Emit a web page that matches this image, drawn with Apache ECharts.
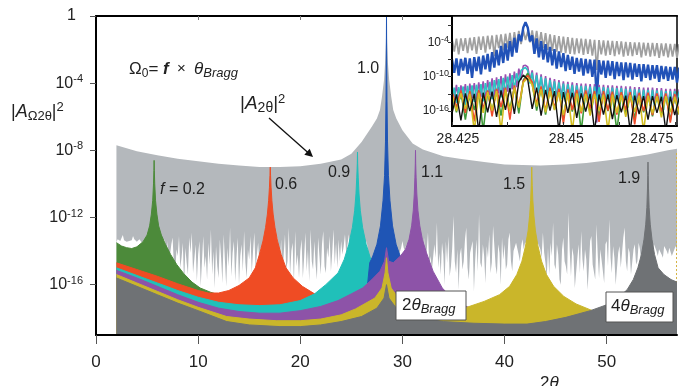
<!DOCTYPE html>
<html><head><meta charset="utf-8">
<script src="https://cdn.jsdelivr.net/npm/echarts@6/dist/echarts.min.js"></script>
<style>html,body{margin:0;padding:0;background:#fff}#c{width:680px;height:386px}</style>
</head><body><div id="c"></div>
<script>
// ---------------- DATA (log10 of intensity) ----------------
const braggX = 28.44;        // 2θ Bragg
const xMax = 56.88;          // 4θ Bragg
const mainXTicks = [0, 10, 20, 30, 40, 50];
const mainYTicks = [0, -4, -8, -12, -16];
const insetXTicks = [28.425, 28.4375, 28.45, 28.4625, 28.475];
const insetXLabels = [28.425, 28.45, 28.475];
const insetYTicks = [-1, -4, -7, -10, -13, -16];
const insetYLabels = [-4, -10, -16];
const peakLabels = ['f = 0.2', '0.6', '0.9', '1.0', '1.1', '1.5', '1.9'];

// |A_2θ|^2 upper envelope (light gray)
const envelope = [[2,-7.7],[4,-8.05],[6,-8.3],[8,-8.5],[10,-8.65],[12,-8.8],[14,-8.9],[16,-9.0],[18,-9.0],[20,-8.95],[22,-8.8],[24,-8.55],[25,-8.2],[26,-7.5],[27,-6.6],[27.5,-6.1],[27.8,-5.6],[28.0,-4.8],[28.2,-3.8],[28.3,-2.8],[28.38,-1.6],[28.42,-0.5],[28.44,0],[28.46,-0.5],[28.5,-1.6],[28.58,-2.8],[28.7,-3.8],[28.9,-4.8],[29.1,-5.6],[29.4,-6.1],[30,-6.8],[31,-7.6],[32,-7.95],[34,-8.35],[35.6,-8.5],[38,-8.7],[40,-8.85],[43.5,-8.9],[46,-8.85],[48,-8.75],[50,-8.6],[52,-8.45],[54,-8.25],[56,-8.0],[56.88,-7.9]];

// lower jagged edge of the light gray |A_2θ|^2 band, read every 0.125 from 2θ = 2 (one row per degree)
const floorStart = 2, floorStep = 0.125;
const floorValues = [
-13.45,-13.3,-13.35,-13.4,-13.3,-13.05,-13.35,-13.4,
-13.45,-13.5,-13.4,-13.3,-13.35,-13.1,-13.3,-13.4,
-13.45,-13.35,-13.3,-13.4,-13.5,-13.4,-13.35,-13.4,
-13.5,-13.5,-13.5,-13.5,-13.5,-13.5,-13.5,-13.5,
-13.5,-13.5,-13.6,-13.6,-14.2,-13.5,-13.3,-14.6,
-13.4,-15.1,-14.2,-13.6,-13.2,-14.8,-15.6,-13.9,
-14.3,-13.1,-15.0,-14.4,-13.5,-16.0,-13.8,-14.7,
-15.4,-13.2,-14.1,-12.9,-15.3,-14.5,-13.6,-15.8,
-14.2,-13.4,-16.1,-14.6,-13.1,-15.0,-14.3,-15.7,
-13.5,-14.8,-12.7,-15.4,-14.0,-16.2,-13.7,-14.9,
-15.6,-13.3,-14.4,-15.9,-13.0,-14.6,-16.1,-13.8,
-14.9,-12.6,-15.5,-14.1,-13.4,-15.8,-14.4,-13.2,
-16.0,-14.3,-13.6,-15.2,-12.8,-14.7,-15.6,-13.9,
-14.5,-13.1,-15.3,-14.0,-12.9,-15.1,-14.2,-13.5,
-14.8,-13.8,-14.1,-13.5,-14.0,-13.6,-13.8,-13.5,
-14.0,-13.7,-13.6,-13.9,-14.3,-13.4,-13.2,-14.0,
-14.8,-13.3,-15.7,-14.2,-13.0,-15.1,-14.6,-12.6,
-15.4,-14.0,-13.5,-15.9,-12.8,-14.9,-14.2,-15.6,
-14.0,-13.3,-15.6,-14.4,-12.9,-15.2,-13.9,-15.8,
-12.7,-14.6,-15.1,-13.4,-14.8,-15.7,-13.2,-14.3,
-15.4,-13.6,-12.8,-14.9,-15.3,-13.8,-14.4,-13.1,
-15.2,-14.1,-12.7,-14.8,-13.5,-15.0,-13.3,-14.6,
-13.4,-14.2,-13.7,-13.0,-14.2,-13.6,-13.0,-13.8,
-13.8,-13.5,-13.5,-13.6,-13.5,-13.4,-13.5,-13.5,
-13.2,-13.6,-14.0,-13.7,-13.4,-14.0,-14.4,-14.5,
-14.5,-14.5,-14.5,-14.5,-14.5,-14.5,-14.5,-14.5,
-14.5,-14.5,-14.5,-14.5,-14.5,-14.5,-14.5,-14.5,
-14.5,-14.5,-14.5,-14.5,-14.5,-14.3,-14.2,-13.8,
-13.4,-13.8,-14.0,-13.6,-14.0,-13.7,-13.5,-13.8,
-13.8,-13.6,-13.5,-13.7,-13.9,-13.5,-13.2,-13.9,
-14.5,-13.2,-15.6,-14.0,-12.9,-14.8,-14.3,-15.2,
-15.2,-13.6,-14.4,-12.3,-15.0,-14.1,-15.4,-13.5,
-14.2,-16.0,-13.4,-14.7,-13.1,-15.5,-14.9,-13.8,
-11.9,-14.6,-15.3,-13.9,-16.3,-14.2,-13.8,-15.1,
-14.6,-13.3,-12.6,-15.0,-15.7,-14.1,-14.0,-13.4,
-16.4,-14.5,-13.3,-15.2,-11.8,-14.7,-15.0,-13.6,
-14.3,-15.9,-13.7,-14.4,-13.0,-15.3,-14.7,-12.5,
-12.5,-14.9,-15.4,-13.6,-14.1,-16.0,-13.2,-14.5,
-13.6,-15.1,-14.8,-13.3,-12.9,-14.6,-15.2,-14.0,
-14.0,-13.5,-13.4,-14.2,-14.6,-13.7,-13.3,-13.9,
-13.5,-13.5,-13.5,-13.5,-13.5,-13.5,-13.5,-13.5,
-13.5,-13.5,-13.5,-13.6,-13.9,-14.4,-12.9,-14.1,
-14.7,-15.6,-13.8,-15.4,-13.5,-14.3,-12.3,-14.8,
-15.1,-13.6,-14.2,-15.7,-16.0,-13.9,-13.2,-14.6,
-14.9,-15.4,-11.7,-14.0,-15.5,-13.8,-14.3,-16.2,
-16.2,-14.4,-13.6,-15.3,-12.8,-14.5,-15.2,-13.9,
-14.5,-16.3,-15.0,-13.4,-13.1,-14.8,-14.8,-15.7,
-12.4,-14.3,-15.6,-13.9,-14.0,-15.2,-15.9,-13.6,
-13.4,-14.9,-12.1,-14.4,-15.3,-13.7,-14.4,-16.0,
-16.0,-14.1,-13.7,-15.0,-14.9,-13.2,-12.6,-14.6,
-15.2,-13.8,-14.1,-15.4,-15.5,-13.9,-13.6,-14.8,
-14.6,-13.5,-13.9,-14.7,-14.3,-13.8,-14.0,-14.4,
-14.2,-13.9,-13.7,-14.1,-14.1,-13.6,-13.5,-14.0,
-14.3,-13.9,-13.8,-14.2,-14.4,-13.7,-13.6,-14.0,
-14.2,-13.8,-13.9,-14.3,-14.4,-13.9,-13.7,-14.0];

// |A_Ω2θ|^2 for each f
const seriesF02 = [[2,-13.5],[2.5,-13.7],[3,-13.8],[3.5,-13.85],[4,-13.75],[4.6,-13.45],[5.0,-13.05],[5.25,-12.5],[5.42,-11.8],[5.55,-11.0],[5.63,-10.0],[5.67,-9.2],[5.69,-8.6],[5.71,-9.2],[5.75,-10.0],[5.83,-11.0],[5.96,-11.8],[6.13,-12.5],[6.4,-13.05],[6.8,-13.6],[7.3,-14.2],[7.9,-14.8],[8.6,-15.35],[9.4,-15.85],[10.2,-16.2],[11.2,-16.45],[12.5,-16.7],[14,-17.0]];
const seriesF06 = [[2,-14.7],[4,-15.1],[6,-15.5],[8,-15.95],[10,-16.35],[11,-16.5],[12,-16.5],[13,-16.35],[14,-16.05],[15,-15.6],[15.6,-15.0],[16.0,-14.2],[16.35,-13.4],[16.6,-12.6],[16.78,-11.8],[16.9,-11.0],[16.98,-10.2],[17.03,-9.5],[17.06,-9.0],[17.09,-9.5],[17.14,-10.2],[17.22,-11.0],[17.34,-11.8],[17.52,-12.6],[17.77,-13.4],[18.12,-14.2],[18.6,-15.0],[19.3,-15.6],[20.2,-16.1],[21.4,-16.55],[22.5,-16.8],[24,-17.0],[26,-17.2],[28,-17.4]];
const seriesF09 = [[2,-15.0],[4,-15.45],[6,-15.9],[8,-16.35],[10,-16.75],[12,-17.05],[14,-17.2],[16,-17.25],[18,-17.2],[20,-16.95],[21.4,-16.55],[22.5,-16.0],[23.7,-15.3],[24.3,-14.5],[24.75,-13.6],[25.1,-12.6],[25.32,-11.6],[25.45,-10.6],[25.53,-9.6],[25.58,-8.8],[25.6,-8.1],[25.62,-8.8],[25.67,-9.6],[25.75,-10.6],[25.88,-11.6],[26.1,-12.6],[26.45,-13.6],[26.9,-14.5],[27.4,-15.1],[28,-15.6],[29,-16.1],[30,-16.5],[32,-17.0]];
const seriesF10 = [[2,-19.5],[26.0,-19.5],[26.5,-16.5],[26.8,-14.7],[27.1,-14.3],[27.5,-13.6],[27.85,-12.5],[28.1,-11.0],[28.25,-9.5],[28.34,-7.5],[28.39,-5.0],[28.42,-2.5],[28.44,0],[28.46,-2.5],[28.49,-5.0],[28.54,-7.5],[28.63,-9.5],[28.78,-11.0],[29.03,-12.5],[29.38,-13.6],[29.78,-14.3],[30.08,-14.7],[30.38,-16.5],[30.8,-19.5],[56.88,-19.5]];
const seriesF11 = [[2,-15.15],[4,-15.6],[6,-16.1],[8,-16.6],[10,-17.05],[12,-17.4],[14,-17.6],[16,-17.7],[18,-17.7],[20,-17.55],[22,-17.3],[23.7,-16.95],[25,-16.55],[26.1,-16.2],[27,-15.7],[27.8,-15.2],[28.25,-14.6],[28.44,-13.8],[28.65,-14.6],[29.1,-14.7],[29.8,-14.3],[30.3,-13.9],[30.65,-13.3],[30.9,-12.5],[31.06,-11.6],[31.16,-10.6],[31.22,-9.6],[31.26,-8.8],[31.28,-8.0],[31.3,-8.8],[31.34,-9.6],[31.41,-10.6],[31.52,-11.6],[31.7,-12.5],[31.95,-13.3],[32.35,-14.1],[33.0,-15.2],[33.9,-16.2],[35,-16.9],[36.6,-17.4],[38,-17.7],[40,-17.9],[45,-17.95],[50,-17.7],[54,-17.3],[56.88,-17.0]];
const seriesF15 = [[2,-15.4],[4,-15.9],[6,-16.4],[8,-16.9],[10,-17.35],[12.8,-17.9],[15,-18.05],[17.7,-18.15],[20,-18.15],[22,-18.05],[24,-17.8],[25.4,-17.45],[27.3,-16.8],[28.0,-16.2],[28.3,-15.3],[28.44,-14.4],[28.58,-15.3],[28.9,-16.2],[29.6,-16.8],[31,-17.1],[33,-17.35],[35,-17.45],[36.3,-17.35],[38,-17.0],[39.5,-16.6],[40.5,-16.1],[41.2,-15.4],[41.7,-14.6],[42.05,-13.7],[42.3,-12.8],[42.45,-11.9],[42.55,-11.0],[42.61,-10.1],[42.66,-9.0],[42.71,-10.1],[42.77,-11.0],[42.87,-11.9],[43.02,-12.8],[43.27,-13.7],[43.62,-14.6],[44.1,-15.4],[44.8,-16.1],[45.8,-16.7],[47,-17.15],[48.6,-17.55],[50,-17.8],[53,-18.0],[56.88,-18.0]];
const seriesF19 = [[2,-15.6],[4,-16.1],[6,-16.6],[8,-17.1],[10,-17.55],[12.8,-18.2],[15,-18.4],[18,-18.5],[20,-18.5],[22,-18.4],[24,-18.2],[26,-17.9],[27.5,-17.4],[28.2,-16.8],[28.44,-16.0],[28.68,-16.8],[29.4,-17.4],[31,-17.9],[34,-18.2],[37,-18.3],[40,-18.35],[42.2,-18.35],[44,-18.2],[46,-17.95],[48.4,-17.55],[50,-17.2],[51.1,-16.8],[52.0,-16.3],[52.6,-15.7],[53.05,-15.0],[53.4,-14.2],[53.65,-13.3],[53.82,-12.4],[53.93,-11.4],[53.99,-10.3],[54.02,-9.5],[54.04,-8.7],[54.06,-9.5],[54.09,-10.3],[54.15,-11.4],[54.26,-12.4],[54.43,-13.3],[54.68,-14.2],[55.03,-15.0],[55.6,-15.4],[56.3,-15.7],[56.88,-15.85]];

// Inset (zoom around 2θ Bragg), sampled from 28.425
const insetStart = 28.425;
const insetFineStep = 0.0005;
const insetCoarseStep = 0.001;
const insetGray = [-3.4,-5.6,-3.35,-6.1,-3.3,-5.5,-3.25,-5.9,-3.2,-5.4,
-3.1,-6.0,-3.0,-5.3,-2.95,-5.8,-2.85,-5.2,-2.8,-6.4,
-2.7,-5.0,-2.6,-5.4,-2.5,-4.9,-2.35,-5.2,-2.2,-4.6,
-2.0,-4.3,-1.9,-3.6,-2.1,-4.0,-1.9,-4.4,-2.0,-4.7,
-2.2,-5.0,-2.4,-5.3,-2.6,-5.5,-2.75,-5.6,-2.9,-5.8,
-3.0,-5.9,-3.1,-6.0,-3.2,-6.1,-3.3,-5.9,-3.35,-6.2,
-3.4,-6.0,-3.5,-6.3,-3.55,-8.8,-3.6,-6.1,-3.65,-6.3,
-3.7,-6.2,-3.75,-6.4,-3.8,-6.1,-3.85,-6.5,-3.9,-6.3,
-3.95,-6.4,-4.0,-6.2,-4.0,-6.6,-4.05,-6.3,-4.1,-6.5,
-4.1,-6.4,-4.15,-6.7,-4.2,-6.4,-4.2,-6.6,-4.25,-6.5,
-4.25,-6.7,-4.3];
const insetBlue = [-7.0,-9.3,-6.8,-9.8,-6.9,-8.9,-6.7,-9.5,-6.8,-10.2,
-6.6,-9.0,-6.5,-9.6,-6.3,-8.7,-6.0,-9.1,-5.7,-8.4,
-5.3,-8.0,-4.6,-7.6,-4.2,-7.2,-3.8,-6.5,-3.2,-5.8,
-2.6,-3.8,-1.4,-0.5,-1.4,-3.8,-2.8,-6.0,-3.3,-6.6,
-3.8,-7.0,-4.3,-7.5,-4.8,-8.0,-5.2,-8.6,-5.6,-8.3,
-5.9,-9.0,-6.2,-8.8,-6.5,-9.5,-6.7,-9.1,-6.8,-9.8,
-6.9,-9.4,-7.0,-10.0,-7.0,-14.0,-7.1,-9.6,-7.2,-10.2,
-7.2,-9.8,-7.3,-10.4,-7.4,-9.9,-7.5,-10.6,-7.5,-10.1,
-7.6,-10.5,-7.7,-10.0,-7.8,-10.8,-7.8,-10.2,-7.9,-10.6,
-8.0,-10.3,-8.0,-10.9,-8.1,-10.4,-8.2,-10.7,-8.3,-10.5,
-8.3,-11.0,-8.4];
const insetPurple = [-11.6,-13.9,-11.4,-14.3,-11.5,-13.6,-11.3,-14.8,-11.2,-13.7,
-11.1,-14.1,-11.0,-13.5,-10.8,-14.0,-10.6,-13.2,-10.3,-13.6,
-10.1,-12.9,-9.9,-13.3,-9.6,-12.6,-9.4,-12.2,-9.1,-11.8,
-8.6,-10.5,-8.1,-8.0,-8.3,-10.6,-8.9,-12.0,-9.3,-12.5,
-9.6,-12.9,-9.9,-13.4,-10.2,-13.1,-10.4,-13.8,-10.6,-13.5,
-10.8,-14.0,-10.9,-13.6,-11.0,-14.2,-11.1,-13.7,-11.2,-14.4,
-11.2,-13.9,-11.3,-14.6,-11.3,-18.0,-11.4,-14.1,-11.4,-14.5,
-11.5,-14.0,-11.5,-14.7,-11.6,-14.2,-11.6,-14.8,-11.7,-14.3,
-11.7,-14.9,-11.8,-14.4,-11.8,-15.0,-11.9,-14.5,-11.9,-15.1,
-11.9,-14.6,-12.0,-15.2,-12.0,-14.7,-12.1,-15.0,-12.1,-14.8,
-12.1,-15.3,-12.2];
const insetCyan = [-14.2,-11.9,-14.6,-11.8,-13.9,-11.7,-15.0,-11.6,-14.1,-11.5,
-14.4,-11.4,-13.8,-11.3,-14.3,-11.1,-13.5,-10.9,-13.9,-10.6,
-13.2,-10.4,-13.6,-10.2,-12.9,-10.0,-12.5,-9.7,-12.1,-9.4,
-11.0,-8.9,-8.6,-8.4,-8.9,-11.2,-9.3,-12.4,-9.7,-12.9,
-10.0,-13.3,-10.3,-13.8,-10.6,-13.5,-10.8,-14.2,-11.0,-13.9,
-11.2,-14.4,-11.3,-14.0,-11.4,-14.6,-11.5,-14.1,-11.6,-14.8,
-11.6,-14.3,-11.7,-15.0,-11.7,-14.5,-11.8,-15.1,-11.8,-14.6,
-11.9,-15.2,-11.9,-14.7,-12.0,-15.3,-12.0,-14.8,-12.1,-15.4,
-12.1,-14.9,-12.2,-15.5,-12.2,-15.0,-12.3,-15.6,-12.3,-15.1,
-12.3,-15.7,-12.4,-15.2,-12.4,-15.8,-12.5,-15.3,-12.5,-15.9,
-12.5,-15.4,-12.6];
const insetGreen = [-12.9,-16.2,-12.7,-17.5,-12.8,-15.8,-12.5,-19.5,-12.6,-16.0,
-12.4,-16.8,-12.2,-15.6,-11.8,-16.4,-10.6,-9.4,-11.2,-15.9,
-12.0,-16.6,-12.2,-15.7,-12.4,-17.2,-12.5,-16.1,-12.6,-19.5,
-12.7,-16.3,-12.8,-17.0,-12.9,-16.0,-13.0,-19.5,-13.0,-16.5,
-13.1,-17.3,-13.1,-16.2,-13.2,-16.9,-13.2,-16.4,-13.3,-17.6,
-13.3,-16.6];
const insetRed = [-12.6,-15.4,-12.4,-16.3,-12.5,-17.8,-12.3,-15.6,-12.4,-16.9,
-12.1,-15.3,-11.9,-17.5,-11.5,-15.2,-10.8,-9.8,-10.9,-14.8,
-11.7,-16.0,-11.9,-15.5,-12.1,-18.2,-12.2,-15.8,-12.3,-16.4,
-12.4,-15.6,-12.5,-17.9,-12.5,-15.9,-12.6,-16.6,-12.7,-15.8,
-12.7,-18.3,-12.8,-16.0,-12.8,-16.7,-12.9,-16.1,-12.9,-18.0,
-13.0,-16.2];
const insetYellow = [-13.0,-16.0,-12.9,-15.6,-13.0,-19.5,-12.8,-16.3,-12.7,-15.9,
-12.5,-19.5,-12.3,-16.0,-11.9,-15.4,-11.0,-10.2,-11.4,-15.2,
-12.2,-16.2,-12.5,-15.8,-12.7,-16.7,-12.8,-19.5,-12.9,-16.1,
-13.0,-16.8,-13.0,-15.9,-13.1,-19.5,-13.1,-16.3,-13.2,-17.0,
-13.2,-16.1,-13.3,-19.5,-13.3,-16.4,-13.4,-17.1,-13.4,-16.2,
-13.5,-16.6];
const insetBlack = [-16.4,-13.1,-17.6,-12.9,-16.0,-13.0,-19.5,-12.8,-16.2,-12.6,
-17.0,-12.4,-15.8,-12.0,-16.5,-10.9,-9.7,-10.5,-15.6,-11.9,
-16.8,-12.3,-15.9,-12.5,-19.5,-12.7,-16.3,-12.8,-17.2,-12.9,
-16.1,-13.0,-19.5,-13.1,-16.6,-13.1,-17.4,-13.2,-16.2,-13.3,
-19.5,-13.3,-16.5,-13.4,-17.5,-13.4,-16.3,-13.5,-19.5,-13.5,
-16.7,-13.6];

// ---------------- STYLE ----------------
const FONT = '"Liberation Sans", Arial, Helvetica, sans-serif';
const C = {
  env:'#b4b8bc', green:'#4c8a3a', red:'#ef4c24', cyan:'#20c0b9', blue:'#1f55b5',
  purple:'#8d53a8', yellow:'#cab62a', dark:'#6f7275', dotted:'#d6b444'
};
const IC = {gray:'#a0a0a0', blue:'#2152b8', purple:'#9a50b2', cyan:'#2cc4c2', green:'#3f9a3a', red:'#ef4c2a', yellow:'#d2be22', black:'#111'};

const floorEdge = floorValues.map((v, i) => [floorStart + i * floorStep, v]);

function area(name, data, color, lw, z) {
  return {type:'line', name, data, xAxisIndex:0, yAxisIndex:0, symbol:'none', showSymbol:false, z,
    silent:true, animation:false, clip:true,
    lineStyle:{width: lw, color}, itemStyle:{color},
    areaStyle:{color, opacity:1, origin:'start'}};
}
function insetLine(name, vals, step, color, w, z) {
  return {type:'line', name, data: vals.map((v,i)=>[insetStart + i*step, v]), xAxisIndex:2, yAxisIndex:1,
    zlevel:1, z, symbol:'none', showSymbol:false, silent:true, animation:false, clip:true,
    lineStyle:{width:w, color}, itemStyle:{color}};
}
const supRich = (fs, sfs) => ({
  n:{fontSize:fs, lineHeight:fs+3, color:'#222', fontFamily:FONT},
  one:{fontSize:fs, lineHeight:fs+3, color:'#222', fontFamily:FONT, padding:[0,7,0,0]},
  s:{fontSize:sfs, lineHeight:sfs, verticalAlign:'top', color:'#222', fontFamily:FONT}
});
function txt(x, y, text, rich) {
  return {type:'text', x, y, z:100, silent:true,
    style:{text, rich, fill:'#222', align:'left', verticalAlign:'middle', fontFamily:FONT}};
}
const baseRich = (fs) => ({
  b:{fontSize:fs, fontFamily:FONT, color:'#222', lineHeight:fs+4},
  i:{fontSize:fs, fontFamily:FONT, color:'#222', fontStyle:'italic', lineHeight:fs+4},
  bi:{fontSize:fs, fontFamily:FONT, color:'#222', fontStyle:'italic', fontWeight:'bold', lineHeight:fs+4},
  x:{fontSize:fs-2, fontFamily:FONT, color:'#777', lineHeight:fs+4},
  sub:{fontSize:Math.round(fs*0.72), fontFamily:FONT, color:'#222', verticalAlign:'bottom', lineHeight:Math.round(fs*0.72)},
  subi:{fontSize:Math.round(fs*0.74), fontFamily:FONT, color:'#222', fontStyle:'italic', verticalAlign:'bottom', lineHeight:Math.round(fs*0.72)},
  sup:{fontSize:Math.round(fs*0.7), fontFamily:FONT, color:'#222', verticalAlign:'top', lineHeight:Math.round(fs*0.7)}
});

const chart = echarts.init(document.getElementById('c'), null, {renderer:'canvas'});
const option = {
  animation:false,
  backgroundColor:'#ffffff',
  grid:[
    {left:96, top:16, width:581, height:319},
    {left:452, top:16, width:225, height:110, show:true, backgroundColor:'#fff', borderColor:'#000', borderWidth:1.5, zlevel:1}
  ],
  xAxis:[
    {gridIndex:0, type:'value', min:0, max:xMax, z:50,
      axisLine:{show:true, onZero:false, lineStyle:{color:'#000', width:2}},
      axisTick:{show:true, customValues:mainXTicks, length:9, lineStyle:{color:'#555', width:1}},
      axisLabel:{customValues:mainXTicks, fontSize:17, color:'#222', margin:19, fontFamily:FONT},
      splitLine:{show:false}},
    {gridIndex:0, type:'value', position:'top', min:0, max:xMax, z:50,
      axisLine:{show:true, onZero:false, lineStyle:{color:'#000', width:2}},
      axisTick:{show:true, inside:true, length:4, customValues:mainXTicks.slice(1), lineStyle:{color:'#777'}},
      axisLabel:{show:false}, splitLine:{show:false}},
    {gridIndex:1, type:'value', min:insetStart, max:28.4755, zlevel:1, z:50,
      axisLine:{show:true, onZero:false, lineStyle:{color:'#000', width:2}},
      axisTick:{show:true, inside:true, length:4, customValues:insetXTicks, lineStyle:{color:'#333'}},
      axisLabel:{customValues:insetXLabels, fontSize:14, color:'#222', margin:6, fontFamily:FONT,
        formatter:(v)=>{ const s = String(Number(v.toFixed(4)));
          if (Math.abs(v-28.475)<1e-6) return '{r|'+s+'}';
          if (Math.abs(v-28.425)<1e-6) return '{l|'+s+'}';
          return '{m|'+s+'}'; },
        rich:{r:{fontSize:14, fontFamily:FONT, color:'#222', padding:[0,46,0,0]},
              l:{fontSize:14, fontFamily:FONT, color:'#222', padding:[0,0,0,12]},
              m:{fontSize:14, fontFamily:FONT, color:'#222', padding:[0,0,0,6]}}},
      splitLine:{show:false}}
  ],
  yAxis:[
    {gridIndex:0, type:'value', min:-19, max:0, z:50,
      axisLine:{show:true, onZero:false, lineStyle:{color:'#000', width:2}},
      axisTick:{show:true, customValues:mainYTicks, length:6, lineStyle:{color:'#555', width:1}},
      axisLabel:{customValues:mainYTicks, margin:13,
        formatter:(v)=> v===0 ? '{one|1}' : '{n|10}{s|'+v+'}', rich:supRich(16,11)},
      splitLine:{show:false}},
    {gridIndex:1, type:'value', min:-18.6, max:0.6, zlevel:1, z:50,
      axisLine:{show:true, onZero:false, lineStyle:{color:'#000', width:2}},
      axisTick:{show:true, customValues:insetYTicks, length:4, lineStyle:{color:'#333', width:1}},
      axisLabel:{customValues:insetYLabels, margin:3,
        formatter:(v)=> '{n|10}{s|'+v+'}', rich:supRich(12,9)},
      splitLine:{show:false}}
  ],
  series:[
    area('envelope', envelope, C.env, 0, 2),
    area('floor', floorEdge, '#ffffff', 0, 3),
    area('f0.2', seriesF02, C.green, 1, 4),
    area('f0.6', seriesF06, C.red, 1, 5),
    area('f0.9', seriesF09, C.cyan, 1, 6),
    area('f1.0', seriesF10, C.blue, 1, 7),
    area('f1.1', seriesF11, C.purple, 1, 8),
    area('f1.5', seriesF15, C.yellow, 1, 9),
    area('f1.9', seriesF19, C.dark, 1, 10),
    {type:'line', name:'bragg', xAxisIndex:0, yAxisIndex:0, z:20, data:[[braggX,-19]], symbol:'none', lineStyle:{width:0}, silent:true,
      markLine:{silent:true, symbol:['none','none'], animation:false, label:{show:false},
        lineStyle:{color:C.dotted, type:[2,2], width:1},
        data:[[{coord:[braggX,-19]},{coord:[braggX,-8]}],[{coord:[xMax-0.05,-19]},{coord:[xMax-0.05,-8.1]}]]}},
    insetLine('gray', insetGray, insetFineStep, IC.gray, 1.8, 2),
    insetLine('blue', insetBlue, insetFineStep, IC.blue, 2.4, 3),
    insetLine('purple', insetPurple, insetFineStep, IC.purple, 1.6, 4),
    insetLine('cyan', insetCyan, insetFineStep, IC.cyan, 1.6, 5),
    insetLine('green', insetGreen, insetCoarseStep, IC.green, 1.6, 6),
    insetLine('red', insetRed, insetCoarseStep, IC.red, 1.6, 7),
    insetLine('yellow', insetYellow, insetCoarseStep, IC.yellow, 1.6, 8),
    insetLine('black', insetBlack, insetCoarseStep, IC.black, 1.4, 9)
  ],
  graphic:[
    txt(11, 112, '{b||}{i|A}{sub|Ω2θ}{b||}{sup|2}', baseRich(18)),
    txt(129, 69, '{b|Ω}{sub|0}{b|= }{bi|f}{x|  ×  }{i|θ}{subi|Bragg}', baseRich(17)),
    txt(240, 104, '{b||}{i|A}{sub|2θ}{b||}{sup|2}', baseRich(19)),
    {type:'line', z:100, silent:true, shape:{x1:269, y1:118, x2:309, y2:153.5}, style:{stroke:'#111', lineWidth:1.3}},
    {type:'polygon', z:100, silent:true, shape:{points:[[313,157],[304.3,154.7],[309.7,148.7]]}, style:{fill:'#111'}},
    txt(160, 190, '{i|f}{b| = 0.2}', baseRich(16)),
    txt(275, 185, '{b|'+peakLabels[1]+'}', baseRich(16)),
    txt(328, 173, '{b|'+peakLabels[2]+'}', baseRich(16)),
    txt(357, 69, '{b|'+peakLabels[3]+'}', baseRich(16)),
    txt(421, 173, '{b|'+peakLabels[4]+'}', baseRich(16)),
    txt(503, 185, '{b|'+peakLabels[5]+'}', baseRich(16)),
    txt(618, 179, '{b|'+peakLabels[6]+'}', baseRich(16)),
    {type:'rect', z:100, silent:true, shape:{x:396, y:291, width:70, height:29}, style:{fill:'#fff', stroke:'#555', lineWidth:1}},
    txt(402, 305, '{b|2}{i|θ}{subi|Bragg}', baseRich(17)),
    {type:'rect', z:100, silent:true, shape:{x:606, y:292, width:67, height:30}, style:{fill:'#fff', stroke:'#555', lineWidth:1}},
    txt(611, 306, '{b|4}{i|θ}{subi|Bragg}', baseRich(17)),
    txt(540, 383, '{b|2}{i|θ}', baseRich(17))
  ]
};
chart.setOption(option);
</script></body></html>
